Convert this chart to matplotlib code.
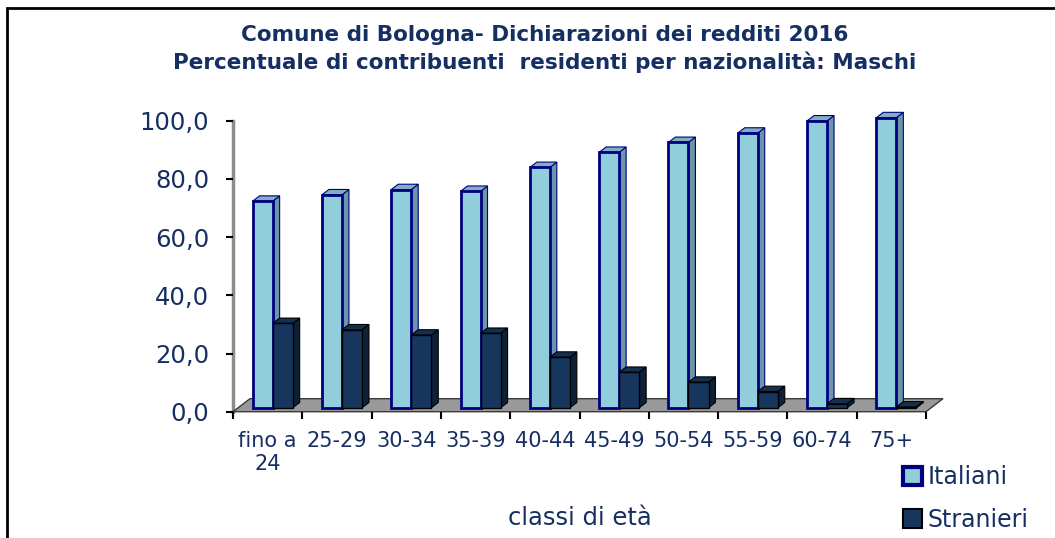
import matplotlib
matplotlib.use('Agg')
import matplotlib.pyplot as plt
from matplotlib.patches import Polygon, Patch, Rectangle
from matplotlib.ticker import FuncFormatter

# data
classi = ['fino a\n24', '25-29', '30-34', '35-39', '40-44', '45-49',
          '50-54', '55-59', '60-74', '75+']
italiani = [71.0, 73.2, 75.0, 74.4, 82.6, 87.8, 91.2, 94.4, 98.6, 99.7]
stranieri = [29.0, 26.8, 25.0, 25.6, 17.4, 12.2, 8.8, 5.6, 1.4, 0.3]

TXT = '#162f63'
W, H = 1055, 538

fig = plt.figure(figsize=(W / 100, H / 100), dpi=100)
ax = fig.add_axes([233 / W, (H - 411.7) / H, 693 / W, 291 / H])
ax.set_xlim(0, 10)
ax.set_ylim(0, 100)

# fake 3D: floor depth offset in data units
FX, FY = 0.245, 4.47


def proj(x, y, d):
    return (x + d * FX, y + d * FY)


floor = Polygon([proj(0, 0, 0), proj(10, 0, 0), proj(10, 0, 1), proj(0, 0, 1)],
                closed=True, facecolor='#999999', edgecolor='#3a3a3a',
                lw=1, zorder=1, clip_on=False)
ax.add_patch(floor)

bw = 0.289
d0, d1 = 0.3, 0.71
series = [
    (italiani, 0, '#92CDDC', '#6A96A6', '#7FAFC0', '#000080', 2.0),
    (stranieri, 1, '#17365D', '#0E2138', '#14304F', '#000000', 1.0),
]
for vals, k, front, side, top, edge, lw in series:
    xs = [i + 0.21 + k * bw for i in range(len(vals))]
    fx, fy = proj(0, 0, d0)
    ax.bar([x + fx for x in xs], vals, width=bw, bottom=fy, align='edge',
           color=front, edgecolor=edge, linewidth=lw, zorder=3 + k,
           clip_on=False)
    for x0, v in zip(xs, vals):
        x1 = x0 + bw
        sd = Polygon([proj(x1, 0, d0), proj(x1, 0, d1), proj(x1, v, d1), proj(x1, v, d0)],
                     closed=True, facecolor=side, edgecolor=edge, lw=0.8,
                     zorder=2.5 + k, clip_on=False)
        tp = Polygon([proj(x0, v, d0), proj(x1, v, d0), proj(x1, v, d1), proj(x0, v, d1)],
                     closed=True, facecolor=top, edgecolor=edge, lw=0.8,
                     zorder=2.5 + k, clip_on=False)
        ax.add_patch(sd)
        ax.add_patch(tp)

# axes styling
for s in ['top', 'right', 'bottom']:
    ax.spines[s].set_visible(False)
ax.spines['left'].set_color('#8c8c8c')
ax.spines['left'].set_linewidth(2.5)
ax.spines['left'].set_zorder(0.5)

ax.set_yticks([0, 20, 40, 60, 80, 100])
ax.yaxis.set_major_formatter(FuncFormatter(lambda v, p: f'{v:.1f}'.replace('.', ',')))
ax.tick_params(axis='y', direction='out', length=5, width=1.5, color='black',
               pad=12, labelsize=17.5, labelcolor=TXT)

ax.set_xticks(range(11))
ax.set_xticklabels([])
ax.tick_params(axis='x', which='major', direction='out', length=5, width=1.5,
               color='black')
ax.set_xticks([i + 0.5 for i in range(10)], minor=True)
ax.set_xticklabels(classi, minor=True)
ax.tick_params(axis='x', which='minor', length=0, pad=14, labelsize=15,
               labelcolor=TXT)
for t in ax.get_xticklabels(minor=True):
    t.set_linespacing(1.15)

fig.text(580 / W, 1 - 518 / H, 'classi di età', ha='center', va='center',
         fontsize=17.5, color=TXT)

fig.text(545 / W, 1 - 35 / H, 'Comune di Bologna- Dichiarazioni dei redditi 2016',
         ha='center', va='center', fontsize=15.5, fontweight='bold', color=TXT)
fig.text(545 / W, 1 - 62 / H, 'Percentuale di contribuenti  residenti per nazionalità: Maschi',
         ha='center', va='center', fontsize=15.5, fontweight='bold', color=TXT)

handles = [Patch(facecolor='#92CDDC', edgecolor='#000080', linewidth=3),
           Patch(facecolor='#17365D', edgecolor='#000000', linewidth=1.5)]
fig.legend(handles, ['Italiani', 'Stranieri'], loc='upper left',
           bbox_to_anchor=(891 / W, 1 - 453 / H), frameon=False,
           fontsize=17, labelcolor=TXT, handlelength=0.8, handleheight=0.8,
           handletextpad=0.25, labelspacing=0.8, borderpad=0)

# outer frame
fig.add_artist(Rectangle((7 / W, -0.05), 1.1, 1 - 8 / H + 0.05,
                         transform=fig.transFigure, fill=False,
                         edgecolor='black', lw=2))

fig.savefig('out.png', dpi=100)
